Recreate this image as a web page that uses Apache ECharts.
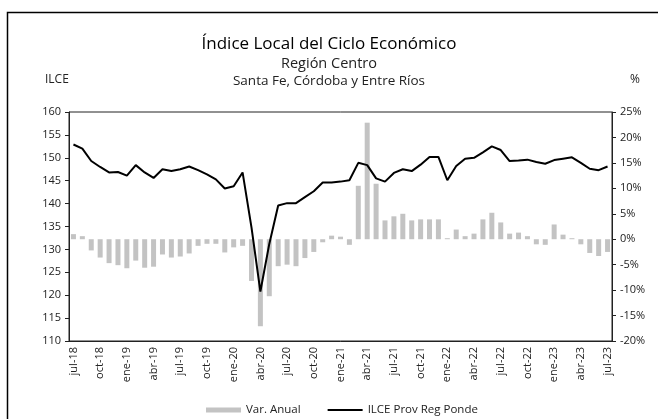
<!DOCTYPE html>
<html>
<head>
<meta charset="utf-8">
<script src="https://cdn.jsdelivr.net/npm/echarts@6/dist/echarts.min.js"></script>
<style>
  html, body { margin: 0; padding: 0; background: #fff; }
  #chart { width: 658px; height: 419px; }
</style>
</head>
<body>
<div id="chart"></div>
<script>
    'use strict';

    // meses jul-18 .. jul-23
    var months = [
        'jul-18', 'ago-18', 'sep-18', 'oct-18', 'nov-18', 'dic-18',
        'ene-19', 'feb-19', 'mar-19', 'abr-19', 'may-19', 'jun-19',
        'jul-19', 'ago-19', 'sep-19', 'oct-19', 'nov-19', 'dic-19',
        'ene-20', 'feb-20', 'mar-20', 'abr-20', 'may-20', 'jun-20',
        'jul-20', 'ago-20', 'sep-20', 'oct-20', 'nov-20', 'dic-20',
        'ene-21', 'feb-21', 'mar-21', 'abr-21', 'may-21', 'jun-21',
        'jul-21', 'ago-21', 'sep-21', 'oct-21', 'nov-21', 'dic-21',
        'ene-22', 'feb-22', 'mar-22', 'abr-22', 'may-22', 'jun-22',
        'jul-22', 'ago-22', 'sep-22', 'oct-22', 'nov-22', 'dic-22',
        'ene-23', 'feb-23', 'mar-23', 'abr-23', 'may-23', 'jun-23',
        'jul-23'
    ];

    // ILCE Prov Reg Ponde (eje izq)
    var ilce = [
        152.9, 152.0, 149.3, 148.0, 146.8, 146.9, 146.1, 148.4, 146.8, 145.6,
        147.5, 147.1, 147.5, 148.1, 147.3, 146.4, 145.3, 143.3, 143.8, 146.8,
        134.8, 120.8, 131.2, 139.6, 140.1, 140.1, 141.4, 142.7, 144.6, 144.6,
        144.8, 145.1, 148.9, 148.4, 145.5, 144.8, 146.7, 147.5, 147.1, 148.5,
        150.2, 150.2, 145.1, 148.2, 149.8, 150.0, 151.2, 152.5, 151.7, 149.3,
        149.4, 149.6, 149.1, 148.7, 149.5, 149.8, 150.1, 148.9, 147.6, 147.3,
        148.1
    ];

    // Var. Anual en % (eje der)
    var varAnual = [
        1.0, 0.6, -2.2, -3.6, -4.7, -5.1, -5.7, -4.2, -5.6, -5.4,
        -3.0, -3.6, -3.4, -2.8, -1.3, -0.9, -0.9, -2.6, -1.6, -1.3,
        -8.2, -17.1, -11.2, -5.3, -5.0, -5.3, -3.7, -2.5, -0.6, 0.7,
        0.5, -1.1, 10.5, 22.9, 10.9, 3.7, 4.5, 5.0, 3.7, 3.9,
        3.9, 3.9, 0.2, 1.9, 0.6, 1.1, 3.9, 5.2, 3.3, 1.1,
        1.3, 0.6, -1.0, -1.1, 2.9, 0.9, 0.2, -1.0, -2.7, -3.3,
        -2.5
    ];

    var FONT = 'Open Sans';
    var TXT = '#222';

    var myChart = echarts.init(document.getElementById('chart'));

    var option = {
        animation: false,
        backgroundColor: '#fff',
        textStyle: { fontFamily: FONT, color: TXT },
        title: [
            {
                text: 'Índice Local del Ciclo Económico',
                left: 'center', top: 31,
                textStyle: { fontFamily: FONT, fontSize: 17, fontWeight: 'normal', color: '#000' }
            },
            {
                text: 'Región Centro',
                left: 'center', top: 51,
                textStyle: { fontFamily: FONT, fontSize: 14.5, fontWeight: 'normal', color: '#222' }
            },
            {
                text: 'Santa Fe, Córdoba y Entre Ríos',
                left: 'center', top: 69,
                textStyle: { fontFamily: FONT, fontSize: 13.5, fontWeight: 'normal', color: '#222' }
            },
            {
                text: 'ILCE',
                left: 40, top: 69,
                textStyle: { fontFamily: FONT, fontSize: 12, fontWeight: 'normal', color: '#222' }
            },
            {
                text: '%',
                left: 625, top: 69,
                textStyle: { fontFamily: FONT, fontSize: 12, fontWeight: 'normal', color: '#222' }
            }
        ],
        graphic: [
            {
                type: 'polyline',
                shape: { points: [[7.5, 419], [7.5, 12.5], [658, 12.5]] },
                style: { stroke: '#000', lineWidth: 1.5, fill: null }
            }
        ],
        legend: {
            left: 201, top: 399,
            itemGap: 26,
            itemWidth: 35,
            itemHeight: 5,
            textStyle: { fontFamily: FONT, fontSize: 11.5, color: '#222' },
            data: [
                { name: 'Var. Anual', icon: 'rect' },
                { name: 'ILCE Prov Reg Ponde', itemStyle: { color: 'rgba(0,0,0,0)', borderWidth: 0 } }
            ]
        },
        grid: {
            left: 69, right: 46, top: 112, bottom: 78,
            show: true, borderColor: '#222', borderWidth: 1
        },
        xAxis: {
            type: 'category',
            data: months,
            boundaryGap: true,
            axisLine: { onZero: false, lineStyle: { color: '#222' } },
            axisTick: { interval: 2, length: 4, lineStyle: { color: '#222' } },
            axisLabel: {
                interval: 2, rotate: 90, margin: 6,
                fontFamily: FONT, fontSize: 11, color: TXT
            }
        },
        yAxis: [
            {
                type: 'value',
                min: 110, max: 160, interval: 5,
                axisLine: { show: true, lineStyle: { color: '#222' } },
                axisTick: { show: true, length: 4, lineStyle: { color: '#222' } },
                splitLine: { show: false },
                axisLabel: { margin: 8, fontFamily: FONT, fontSize: 11, color: TXT }
            },
            {
                type: 'value',
                min: -20, max: 25, interval: 5,
                axisLine: { show: true, lineStyle: { color: '#222' } },
                axisTick: { show: true, length: 4, lineStyle: { color: '#222' } },
                splitLine: { show: false },
                axisLabel: { margin: 8, formatter: '{value}%', fontFamily: FONT, fontSize: 11, color: TXT }
            }
        ],
        series: [
            {
                name: 'Var. Anual',
                type: 'bar',
                yAxisIndex: 1,
                data: varAnual,
                barWidth: 5,
                itemStyle: { color: '#c3c3c3' },
                z: 1
            },
            {
                name: 'ILCE Prov Reg Ponde',
                type: 'line',
                yAxisIndex: 0,
                data: ilce,
                symbol: 'none',
                lineStyle: { color: '#000', width: 2 },
                itemStyle: { color: '#000' },
                z: 3
            }
        ]
    };

    myChart.setOption(option);
</script>
</body>
</html>
